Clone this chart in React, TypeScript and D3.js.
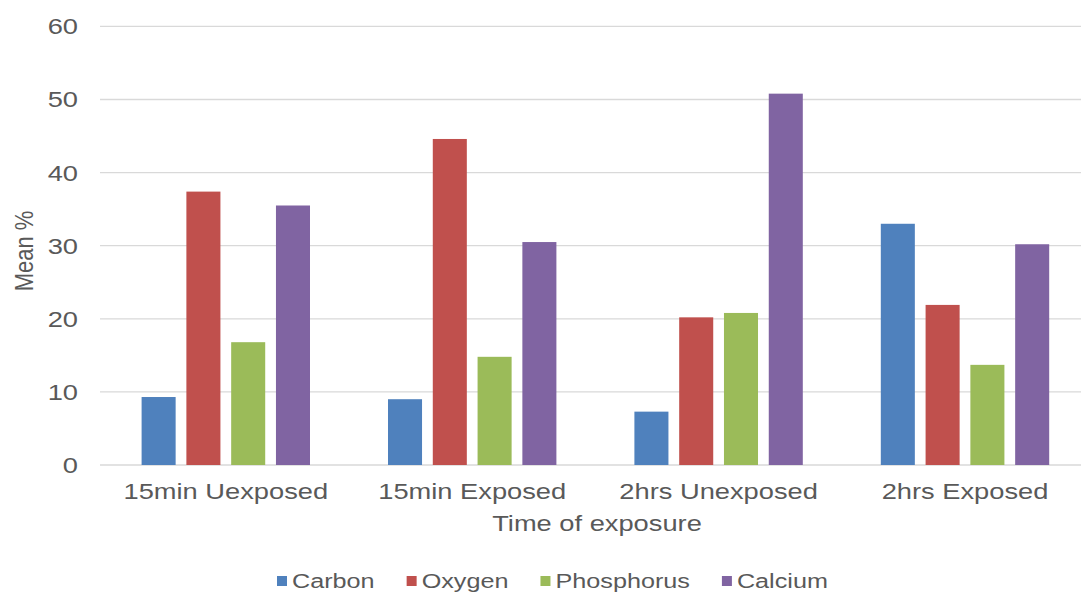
import React, { useEffect, useRef } from "react";
import * as d3 from "d3";

// Exposure groups along the x axis
const categories = ["15min Uexposed", "15min Exposed", "2hrs Unexposed", "2hrs Exposed"];

// Mean % per element, one value per exposure group
const carbon = [9.3, 9.0, 7.3, 33.0];
const oxygen = [37.4, 44.6, 20.2, 21.9];
const phosphorus = [16.8, 14.8, 20.8, 13.7];
const calcium = [35.5, 30.5, 50.8, 30.2];

const seriesNames = ["Carbon", "Oxygen", "Phosphorus", "Calcium"];
const seriesColors = ["#4F81BD", "#C0504D", "#9BBB59", "#8064A2"];
const yTicks = [0, 10, 20, 30, 40, 50, 60];

const W = 1081;
const H = 594;
const FONT = "'Liberation Sans', Arial, sans-serif";
const TEXT = "#595959";
const GRID = "#d9d9d9";
const SX = 1.24; // horizontal stretch of the type

export default function App() {
  const ref = useRef<SVGSVGElement | null>(null);

  useEffect(() => {
    const svg = d3.select(ref.current);
    svg.selectAll("*").remove();

    const series = [carbon, oxygen, phosphorus, calcium];

    const x = d3.scaleBand<string>().domain(categories).range([102.6, 1088.2]).paddingInner(0).paddingOuter(0);
    const groupWidth = 168.4;
    const xs = d3
      .scaleBand<string>()
      .domain(seriesNames)
      .range([0, groupWidth])
      .paddingInner(0.24)
      .paddingOuter(0);
    const y = d3.scaleLinear().domain([0, 60]).range([465, 26.4]);

    // gridlines
    svg
      .append("g")
      .selectAll("line")
      .data(yTicks)
      .join("line")
      .attr("x1", 100)
      .attr("x2", W)
      .attr("y1", (d) => y(d))
      .attr("y2", (d) => y(d))
      .attr("stroke", GRID)
      .attr("stroke-width", 1.3);

    // y tick labels
    svg
      .append("g")
      .selectAll("text")
      .data(yTicks)
      .join("text")
      .attr("transform", (d) => `translate(78,${y(d)}) scale(${SX},1)`)
      .attr("text-anchor", "end")
      .attr("dy", "0.36em")
      .attr("font-family", FONT)
      .attr("font-size", 22)
      .attr("fill", TEXT)
      .text((d) => d);

    // bars
    const groups = svg
      .append("g")
      .selectAll("g")
      .data(categories)
      .join("g")
      .attr("transform", (c) => `translate(${x(c)! + x.bandwidth() / 2 - groupWidth / 2},0)`);

    groups
      .selectAll("rect")
      .data((_c, i) => seriesNames.map((name, s) => ({ name, s, value: series[s][i] })))
      .join("rect")
      .attr("x", (d) => xs(d.name)!)
      .attr("width", xs.bandwidth())
      .attr("y", (d) => y(d.value))
      .attr("height", (d) => y(0) - y(d.value))
      .attr("fill", (d) => seriesColors[d.s]);

    // category labels
    svg
      .append("g")
      .selectAll("text")
      .data(categories)
      .join("text")
      .attr("transform", (c) => `translate(${x(c)! + x.bandwidth() / 2},499) scale(${SX},1)`)
      .attr("text-anchor", "middle")
      .attr("font-family", FONT)
      .attr("font-size", 22)
      .attr("fill", TEXT)
      .text((c) => c);

    // axis titles
    svg
      .append("text")
      .attr("transform", `translate(597,531) scale(${SX},1)`)
      .attr("text-anchor", "middle")
      .attr("font-family", FONT)
      .attr("font-size", 22)
      .attr("fill", TEXT)
      .text("Time of exposure");

    svg
      .append("text")
      .attr("transform", `translate(33,251) scale(1.15,1) rotate(-90)`)
      .attr("text-anchor", "middle")
      .attr("font-family", FONT)
      .attr("font-size", 22)
      .attr("fill", TEXT)
      .text("Mean %");

    // legend
    const legend = svg.append("g");
    const LSX = 1.2;
    let cx = 277;
    seriesNames.forEach((name, i) => {
      legend
        .append("rect")
        .attr("x", cx)
        .attr("y", 576)
        .attr("width", 10)
        .attr("height", 10)
        .attr("fill", seriesColors[i]);
      const t = legend
        .append("text")
        .attr("transform", `translate(${cx + 15},588) scale(${LSX},1)`)
        .attr("font-family", FONT)
        .attr("font-size", 21)
        .attr("fill", TEXT)
        .text(name);
      const len = (t.node() as SVGTextElement).getComputedTextLength() * LSX;
      cx += 15 + len + 32;
    });
  }, []);

  return (
    <div style={{ position: "absolute", left: 0, top: 0 }}>
      <svg ref={ref} width={W} height={H} style={{ display: "block", background: "#fff" }} />
    </div>
  );
}
